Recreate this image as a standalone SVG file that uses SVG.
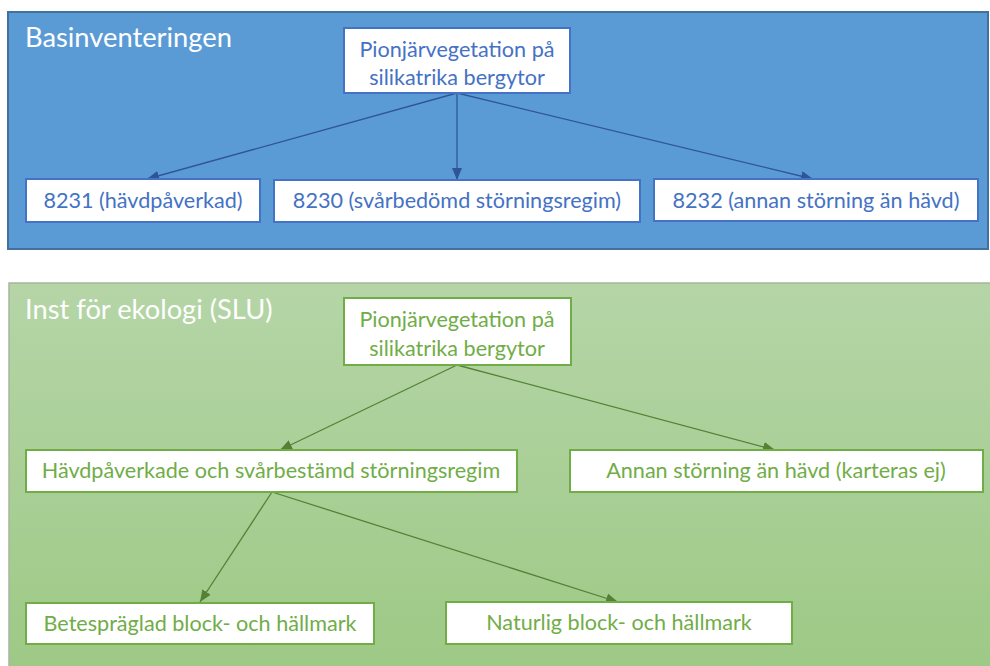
<svg xmlns="http://www.w3.org/2000/svg" width="990" height="666" viewBox="0 0 990 666">
<style>
.node rect{fill:#fff;stroke-width:2}
.b rect{stroke:#4472C4}
.g rect{stroke:#70AD47}
text{font-family:Lato,"Open Sans","Liberation Sans",sans-serif;font-size:21.6px;text-anchor:middle}
.b text{fill:#4472C4}
.g text{fill:#70AD47}
.title{fill:#fff;font-size:27.3px;text-anchor:start}
.cb{stroke:#2F5597;stroke-width:1.3;fill:none}
.cg{stroke:#548235;stroke-width:1.3;fill:none}
</style>
<defs>
<linearGradient id="gg" x1="0" y1="0" x2="0" y2="1">
<stop offset="0" stop-color="#B5D5A7"/>
<stop offset="1" stop-color="#9DC985"/>
</linearGradient>
<marker id="ab" viewBox="0 0 12 10" refX="12" refY="5" markerWidth="12" markerHeight="10" markerUnits="userSpaceOnUse" orient="auto">
<path d="M0,0L12,5L0,10z" fill="#2F5597"/>
</marker>
<marker id="ag" viewBox="0 0 12 10" refX="12" refY="5" markerWidth="12" markerHeight="10" markerUnits="userSpaceOnUse" orient="auto">
<path d="M0,0L12,5L0,10z" fill="#548235"/>
</marker>
</defs>
<rect width="990" height="666" fill="#fff"/>
<g id="panel-top">
<rect x="8" y="12" width="980" height="237" fill="#5B9BD5" stroke="#41719C" stroke-width="2"/>
<text class="title" x="25" y="47">Basinventeringen</text>
</g>
<g id="panel-bottom">
<rect x="9" y="283" width="982" height="390" fill="url(#gg)" stroke="#A9B4A0" stroke-width="1.5"/>
<text class="title" x="25" y="319">Inst för ekologi (SLU)</text>
</g>
<g id="connectors">
<line class="cb" x1="457" y1="93" x2="147" y2="179" marker-end="url(#ab)"/>
<line class="cb" x1="457" y1="93" x2="457" y2="180" marker-end="url(#ab)"/>
<line class="cb" x1="457" y1="93" x2="813" y2="179" marker-end="url(#ab)"/>
<line class="cg" x1="457" y1="365" x2="280" y2="450" marker-end="url(#ag)"/>
<line class="cg" x1="457" y1="365" x2="775" y2="450" marker-end="url(#ag)"/>
<line class="cg" x1="272" y1="492" x2="200" y2="602" marker-end="url(#ag)"/>
<line class="cg" x1="272" y1="492" x2="618" y2="602" marker-end="url(#ag)"/>
</g>
<g id="b-root" class="node b">
<rect x="344" y="28" width="226" height="65"/>
<text x="457" y="57">Pionjärvegetation på</text>
<text x="457" y="85">silikatrika bergytor</text>
</g>
<g id="b-8231" class="node b">
<rect x="26" y="179" width="234" height="43"/>
<text x="143" y="208">8231 (hävdpåverkad)</text>
</g>
<g id="b-8230" class="node b">
<rect x="274" y="180" width="366" height="42"/>
<text x="457" y="208">8230 (svårbedömd störningsregim)</text>
</g>
<g id="b-8232" class="node b">
<rect x="654" y="179" width="324" height="42"/>
<text x="816" y="208">8232 (annan störning än hävd)</text>
</g>
<g id="g-root" class="node g">
<rect x="344" y="298" width="227" height="67"/>
<text x="457" y="327">Pionjärvegetation på</text>
<text x="457" y="356">silikatrika bergytor</text>
</g>
<g id="g-havd" class="node g">
<rect x="26" y="450" width="491" height="42"/>
<text x="271" y="478">Hävdpåverkade och svårbestämd störningsregim</text>
</g>
<g id="g-annan" class="node g">
<rect x="570" y="450" width="413" height="42"/>
<text x="776" y="478">Annan störning än hävd (karteras ej)</text>
</g>
<g id="g-bete" class="node g">
<rect x="26" y="603" width="348" height="41"/>
<text x="200" y="631">Betespräglad block- och hällmark</text>
</g>
<g id="g-natur" class="node g">
<rect x="446" y="602" width="346" height="42"/>
<text x="619" y="630">Naturlig block- och hällmark</text>
</g>
</svg>
